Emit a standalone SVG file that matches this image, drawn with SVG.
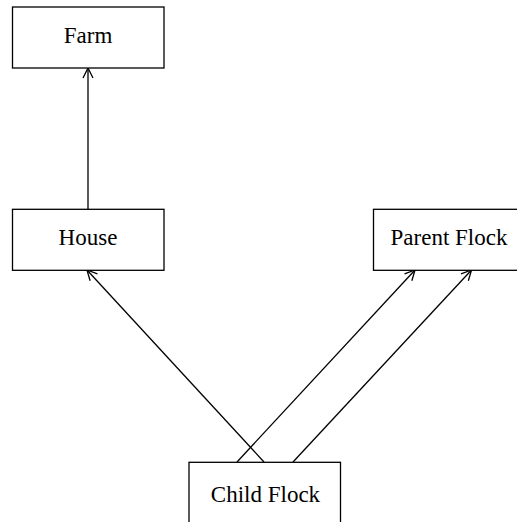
<svg xmlns="http://www.w3.org/2000/svg" width="517" height="522" viewBox="0 0 517 522">
<defs>
<marker id="arr" viewBox="0 0 12 12" refX="11" refY="6" markerWidth="12" markerHeight="12" markerUnits="userSpaceOnUse" orient="auto">
<path d="M1,1 L11,6 L1,11" fill="none" stroke="#000" stroke-width="1.3"/>
</marker>
<style>
.box{fill:#fff;stroke:#000;stroke-width:1.3}
.lbl{font-family:"Liberation Serif","Times New Roman",serif;font-size:23px;fill:#000;text-anchor:middle}
.edge{fill:none;stroke:#000;stroke-width:1.3;marker-end:url(#arr)}
</style>
</defs>
<rect width="517" height="522" fill="#fff"/>
<g id="connectors">
<line class="edge" x1="88" y1="209" x2="88" y2="68"/>
<line class="edge" x1="264" y1="462" x2="87" y2="270"/>
<line class="edge" x1="237" y1="462" x2="415" y2="270"/>
<line class="edge" x1="293" y1="462" x2="471.5" y2="270"/>
</g>
<g id="farm">
<rect class="box" x="12.5" y="7" width="151.5" height="61"/>
<text class="lbl" x="88" y="42.7">Farm</text>
</g>
<g id="house">
<rect class="box" x="12.5" y="209.3" width="151.5" height="61"/>
<text class="lbl" x="88" y="244.5">House</text>
</g>
<g id="parent-flock">
<rect class="box" x="373.5" y="209.3" width="151.5" height="61"/>
<text class="lbl" x="449" y="244.5">Parent Flock</text>
</g>
<g id="child-flock">
<rect class="box" x="189" y="462.3" width="151.5" height="70"/>
<text class="lbl" x="265.5" y="501.7">Child Flock</text>
</g>
</svg>
